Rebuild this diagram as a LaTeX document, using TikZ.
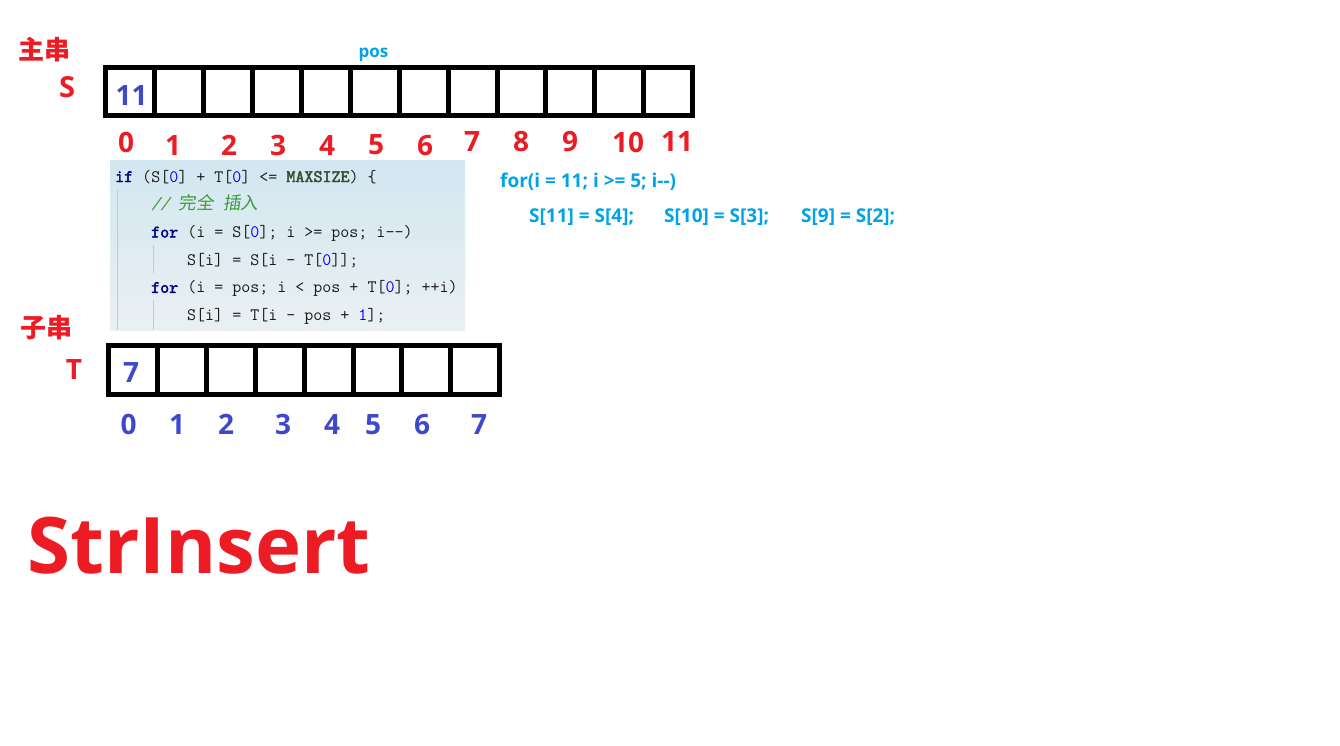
\documentclass[tikz,border=0pt]{standalone}
\usepackage{fontspec}
\newfontfamily\osans{Open Sans}
\newfontfamily\cjk{Noto Sans CJK SC}
\newfontfamily\cjkit{Noto Sans CJK SC}[FakeSlant=0.15]
\newfontfamily\codebold{Latin Modern Mono}[FakeBold=2.5]
\frenchspacing
\definecolor{sred}{HTML}{ED1C24}
\definecolor{sblue}{HTML}{3F48CC}
\definecolor{scyan}{HTML}{00A2E8}
\definecolor{kwnavy}{HTML}{000080}
\definecolor{macgreen}{HTML}{2F4F2F}
\definecolor{numblue}{HTML}{0000FF}
\definecolor{cmtgreen}{HTML}{3C9A3C}
\definecolor{codetext}{HTML}{1A1A1A}
\definecolor{skytop}{HTML}{D2E7F1}
\definecolor{skybot}{HTML}{EAF0F2}
\definecolor{guidec}{HTML}{C3CBCF}
\newcommand\cdkw[1]{{\codebold\color{kwnavy}#1}}
\newcommand\cdnum[1]{{\color{numblue}#1}}
\newcommand\cdmac[1]{{\codebold\color{macgreen}#1}}
\tikzset{
  cell/.style={draw=black, line width=5pt, minimum width=48.9pt, minimum height=48.3pt, inner sep=0pt, outer sep=0pt},
  lbl/.style={inner sep=0pt, font=\osans\bfseries\fontsize{28}{30}\selectfont},
  cjklbl/.style={inner sep=0pt, font=\cjk\bfseries\fontsize{26}{28}\selectfont, text=sred},
  code/.style={anchor=base west, inner sep=0pt, font=\ttfamily\fontsize{17.5}{19}\selectfont, text=codetext},
  note/.style={anchor=base west, inner sep=0pt, font=\osans\bfseries\fontsize{19}{22}\selectfont, text=scyan},
  guide/.style={draw=guidec, line width=0.8pt}
}
\begin{document}
\begin{tikzpicture}[x=1pt,y=-1pt]
\useasboundingbox (0,0) rectangle (1340,745);
% code background
\shade[top color=skytop, bottom color=skybot] (110,160) rectangle (465,330);
\draw[guide] (117,190) -- (117,330);
\draw[guide] (153,245) -- (153,273);
\draw[guide] (153,300) -- (153,330);
% code lines
\node[code] (c1) at (115,182) {\cdkw{if} (S[\cdnum{0}] + T[\cdnum{0}] <= \cdmac{MAXSIZE}) \{};
\node[code] (c2) at (151,209.7) {{\color{cmtgreen}\itshape // {\cjkit\fontsize{17.6}{18}\selectfont 完全} {\cjkit\fontsize{17.6}{18}\selectfont 插入}}};
\node[code] (c3) at (151,237.4) {\cdkw{for} (i = S[\cdnum{0}]; i >= pos; i-{}-)};
\node[code] (c4) at (187,265) {S[i] = S[i - T[\cdnum{0}]];};
\node[code] (c5) at (151,292.8) {\cdkw{for} (i = pos; i < pos + T[\cdnum{0}]; ++i)};
\node[code] (c6) at (187,320.5) {S[i] = T[i - pos + \cdnum{1}];};
% S array
\foreach \i in {0,...,11} \node[cell] (s\i) at ({130.25+48.9*\i},91.65) {};
% T array
\foreach \i in {0,...,7} \node[cell] (t\i) at ({132.95+48.9*\i},370) {};
% labels
\node[cjklbl] (zhuchuan) at (44,50) {主串};
\node[lbl, text=sred, font=\osans\bfseries\fontsize{29}{30}\selectfont] (slab) at (67,87.5) {S};
\node[cjklbl] (zichuan) at (46,328) {子串};
\node[lbl, text=sred] (tlab) at (74,369.5) {T};
\node[anchor=base, inner sep=0pt, font=\osans\bfseries\fontsize{17}{20}\selectfont, text=scyan] (pos) at (373.5,57) {pos};
\node[lbl, text=sblue] (s0v) at (131.7,96) {11};
\node[lbl, text=sblue] (t0v) at (131,372.5) {7};
% S indices
\foreach \i/\x/\y in {0/126/142,1/173/146,2/229/145,3/278/145,4/327/146,5/376/145,6/425/146,7/472/142,8/521/142,9/570/142,10/628/142,11/677/142}
  \node[lbl, text=sred] (si\i) at (\x,\y) {\i};
% T indices
\foreach \i/\x in {0/128.5,1/177,2/226,3/283,4/332,5/373,6/422,7/479}
  \node[lbl, text=sblue] (ti\i) at (\x,424.5) {\i};
% notes
\node[note] (n1) at (500,187) {for(i = 11; i >= 5; i-{}-)};
\node[note] (n2) at (529,222) {S[11] = S[4];};
\node[note] (n3) at (664,222) {S[10] = S[3];};
\node[note] (n4) at (801,222) {S[9] = S[2];};
% title
\node[anchor=base west, inner sep=0pt, font=\osans\bfseries\fontsize{78}{88}\selectfont, text=sred] (title) at (27,573) {StrInsert};
\end{tikzpicture}
\end{document}
